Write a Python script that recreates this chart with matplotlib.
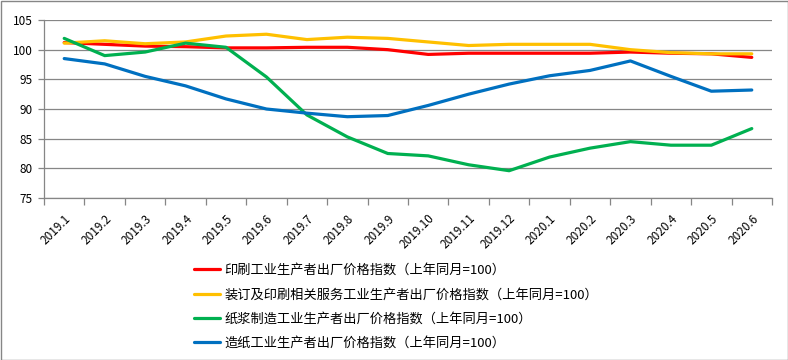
import numpy as np
import matplotlib.pyplot as plt
from matplotlib.patches import Rectangle

plt.rcParams['font.family'] = ['Noto Sans CJK SC', 'DejaVu Sans']

# 月份
meses = ["2019.1", "2019.2", "2019.3", "2019.4", "2019.5", "2019.6", "2019.7", "2019.8", "2019.9",
         "2019.10", "2019.11", "2019.12", "2020.1", "2020.2", "2020.3", "2020.4", "2020.5", "2020.6"]

# 各指数 (上年同月=100)
yinshua = [101.2, 100.9, 100.6, 100.5, 100.3, 100.3, 100.4, 100.4, 100.0,
           99.2, 99.4, 99.4, 99.4, 99.4, 99.6, 99.4, 99.3, 98.7]
zhuangding = [101.1, 101.5, 101.0, 101.3, 102.3, 102.6, 101.7, 102.1, 101.9,
              101.3, 100.7, 100.9, 100.9, 100.9, 100.0, 99.5, 99.3, 99.3]
zhijiang = [101.9, 99.0, 99.6, 101.1, 100.4, 95.4, 89.0, 85.3, 82.5,
            82.1, 80.6, 79.6, 81.9, 83.4, 84.5, 83.9, 83.9, 86.7]
zaozhi = [98.5, 97.6, 95.5, 93.9, 91.7, 90.0, 89.3, 88.7, 88.9,
          90.6, 92.5, 94.2, 95.6, 96.5, 98.1, 95.5, 93.0, 93.2]

nomes = ["印刷工业生产者出厂价格指数（上年同月=100）",
         "装订及印刷相关服务工业生产者出厂价格指数（上年同月=100）",
         "纸浆制造工业生产者出厂价格指数（上年同月=100）",
         "造纸工业生产者出厂价格指数（上年同月=100）"]
cores = ["#FF0000", "#FFC000", "#00B050", "#0070C0"]

fig = plt.figure(figsize=(7.88, 3.6), dpi=100)
ax = fig.add_axes([44/788, 1-198/360, (772-44)/788, (198-20)/360])

x = np.arange(len(meses))
for serie, nome, cor in zip([yinshua, zhuangding, zhijiang, zaozhi], nomes, cores):
    ax.plot(x, serie, color=cor, linewidth=2.3, label=nome, solid_capstyle='round')

ax.set_xlim(-0.5, len(meses) - 0.5)
ax.set_ylim(75, 105)
ax.set_yticks(np.arange(75, 106, 5))
ax.yaxis.grid(True, color='#868686', linewidth=0.9)
ax.set_axisbelow(True)

ax.set_xticks(x)
ax.set_xticklabels(meses, rotation=45, ha='right', rotation_mode='anchor', fontsize=8.5)
ax.set_xticks(np.arange(-0.5, len(meses)), minor=True)
ax.tick_params(axis='x', which='major', length=0, pad=10)
ax.tick_params(axis='x', which='minor', length=5, color='#868686', width=0.9)
ax.tick_params(axis='y', length=4, color='#868686', width=0.9, labelsize=8.5, pad=4)

for lado in ['top', 'right']:
    ax.spines[lado].set_visible(False)
for lado in ['left', 'bottom']:
    ax.spines[lado].set_color('#868686')
    ax.spines[lado].set_linewidth(0.9)

fig.legend(loc='upper left', bbox_to_anchor=(194/788, 1-264/360), frameon=False,
           fontsize=9.5, handlelength=2.0, handletextpad=0.3, labelspacing=0.85,
           borderaxespad=0, borderpad=0)

fig.patches.append(Rectangle((0.5/788, 0.5/360), 1-1/788, 1-1/360, transform=fig.transFigure,
                             fill=False, edgecolor='#868686', linewidth=1))

plt.savefig("out.png", dpi=100)
